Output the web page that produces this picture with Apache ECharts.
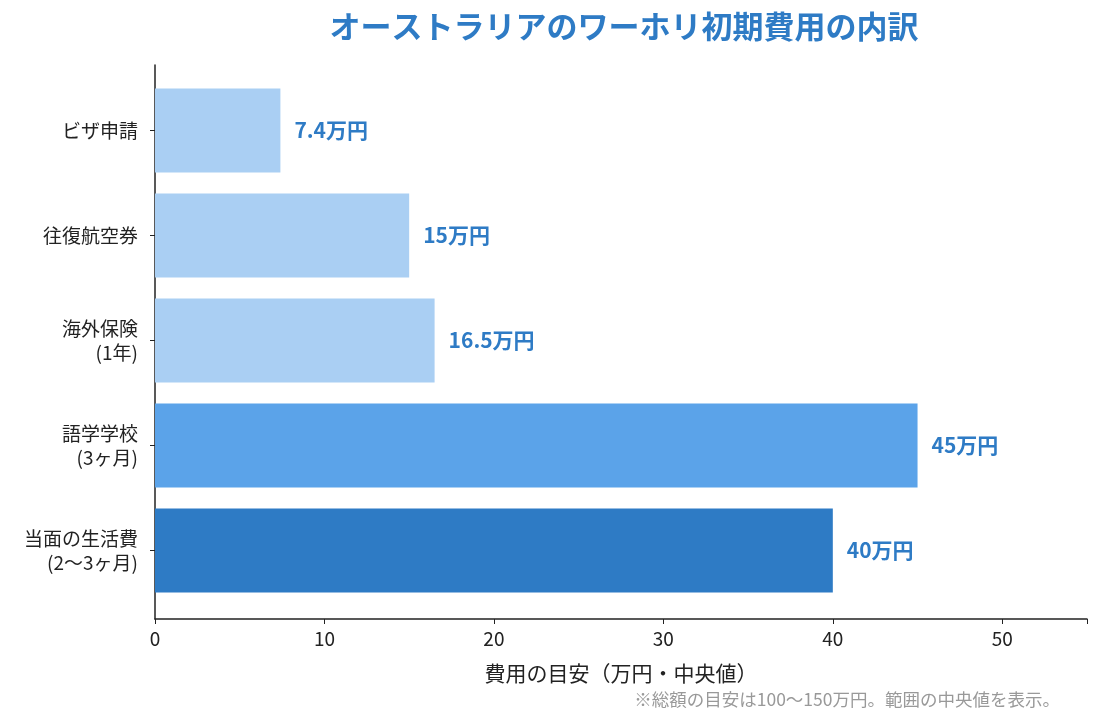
<!DOCTYPE html>
<html>
<head>
<meta charset="utf-8">
<script src="https://cdn.jsdelivr.net/npm/echarts@6/dist/echarts.min.js"></script>
<style>
  html, body { margin: 0; padding: 0; background: #fff; }
  #main { width: 1100px; height: 726px; }
</style>
</head>
<body>
<div id="main"></div>
<script>
  // カテゴリと値（上から順）
  const categories = ['ビザ申請', '往復航空券', '海外保険\n(1年)', '語学学校\n(3ヶ月)', '当面の生活費\n(2〜3ヶ月)'];
  const values = [7.4, 15, 16.5, 45, 40];
  const barColors = ['#aacff3', '#aacff3', '#aacff3', '#5ba3e9', '#2e7bc5'];
  const valueLabels = ['7.4万円', '15万円', '16.5万円', '45万円', '40万円'];

  const font = '"Noto Sans CJK JP", "Noto Sans", sans-serif';
  const myChart = echarts.init(document.getElementById('main'));

  myChart.setOption({
    backgroundColor: '#fff',
    textStyle: { fontFamily: font },
    title: {
      text: 'オーストラリアのワーホリ初期費用の内訳',
      left: 619,
      top: 6,
      textAlign: 'center',
      textStyle: { fontSize: 31, fontWeight: 'bold', color: '#2e7bc5', fontFamily: font }
    },
    graphic: [{
      type: 'text',
      right: 40,
      top: 691,
      style: {
        text: '※総額の目安は100〜150万円。範囲の中央値を表示。',
        fill: '#999',
        font: '17.5px ' + font
      }
    }],
    grid: [
      // 軸線用
      { left: 155, right: 13, top: 65, bottom: 107 },
      // 棒用
      { left: 155, right: 13, top: 78, bottom: 123 }
    ],
    xAxis: [{
      gridIndex: 0,
      type: 'value',
      min: 0,
      max: 55,
      interval: 10,
      name: '費用の目安（万円・中央値）',
      nameLocation: 'middle',
      nameGap: 44,
      nameTextStyle: { fontSize: 21, color: '#222', fontFamily: font },
      axisLine: { show: true, lineStyle: { color: '#222', width: 1.5 } },
      axisTick: { show: true, length: 5, lineStyle: { color: '#222' } },
      axisLabel: { fontSize: 19, color: '#222', margin: 10, fontFamily: font,
        formatter: v => (v % 10 === 0 && v <= 50) ? String(v) : '' },
      splitLine: { show: false }
    }, {
      gridIndex: 1,
      type: 'value',
      min: 0,
      max: 55,
      show: false
    }],
    yAxis: [{
      gridIndex: 0,
      type: 'value',
      min: 0,
      max: 1,
      axisLine: { show: true, lineStyle: { color: '#222', width: 1.5 } },
      axisTick: { show: false },
      axisLabel: { show: false },
      splitLine: { show: false }
    }, {
      gridIndex: 1,
      type: 'category',
      inverse: true,
      data: categories,
      axisLine: { show: false },
      axisTick: { show: true, alignWithLabel: true, length: 5, lineStyle: { color: '#222' } },
      axisLabel: { fontSize: 19, color: '#222', lineHeight: 24, margin: 17, align: 'right', fontFamily: font }
    }],
    series: [{
      type: 'bar',
      xAxisIndex: 1,
      yAxisIndex: 1,
      barCategoryGap: '20%',
      data: values.map((v, i) => ({ value: v, itemStyle: { color: barColors[i] } })),
      label: {
        show: true,
        position: 'right',
        distance: 14,
        formatter: p => valueLabels[p.dataIndex],
        fontSize: 21,
        fontWeight: 'bold',
        color: '#2e7bc5',
        fontFamily: font
      }
    }]
  });
</script>
</body>
</html>
